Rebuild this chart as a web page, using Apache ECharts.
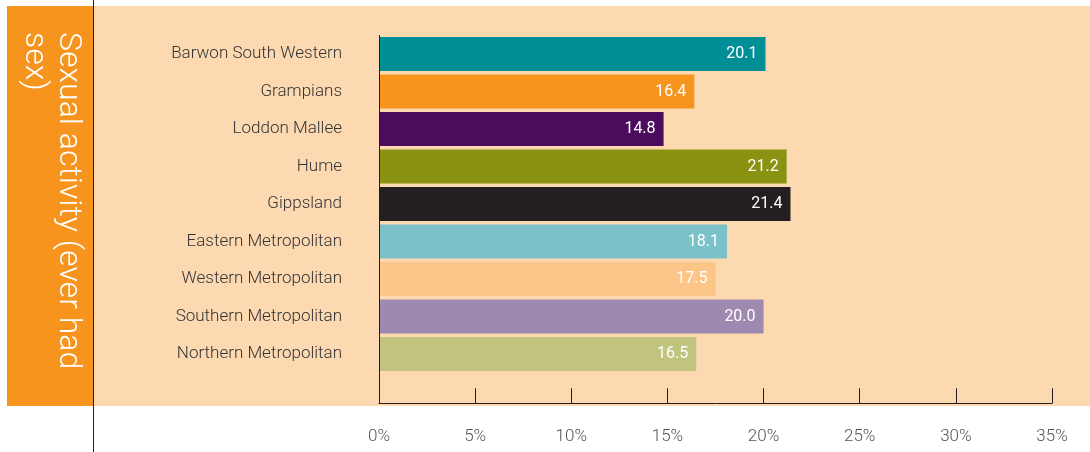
<!DOCTYPE html>
<html>
<head>
<meta charset="utf-8">
<script src="https://cdn.jsdelivr.net/npm/echarts@6/dist/echarts.min.js"></script>
<style>
  html, body { margin: 0; padding: 0; background: #ffffff; }
  #chart { width: 1090px; height: 452px; }
</style>
</head>
<body>
<div id="chart"></div>
<script>
// Regions, top to bottom
const regions = [
  'Barwon South Western', 'Grampians', 'Loddon Mallee', 'Hume', 'Gippsland',
  'Eastern Metropolitan', 'Western Metropolitan', 'Southern Metropolitan', 'Northern Metropolitan'
];
// Percentage who have ever had sex
const values = [20.1, 16.4, 14.8, 21.2, 21.4, 18.1, 17.5, 20.0, 16.5];
// One colour per region
const regionColors = [
  '#008f96', '#f7941e', '#4b0c5e', '#8a9212', '#231f20',
  '#7ac2c8', '#fdc689', '#9e89b0', '#c0c47f'
];
const xTicks = [0, 5, 10, 15, 20, 25, 30, 35];
const panelTitle = 'Sexual activity (ever had\nsex)';

const chart = echarts.init(document.getElementById('chart'), null, { renderer: 'canvas' });

const option = {
  animation: false,
  backgroundColor: '#ffffff',
  graphic: [
    { type: 'rect', z: -10, shape: { x: 93, y: 6, width: 997, height: 400 }, style: { fill: '#fcd9b1' } },
    { type: 'rect', z: -10, shape: { x: 7, y: 6, width: 86, height: 400 }, style: { fill: '#f7941e' } },
    { type: 'line', z: 5, shape: { x1: 93.5, y1: 0, x2: 93.5, y2: 452 }, style: { stroke: '#231f20', lineWidth: 1 } },
    {
      type: 'text', z: 5, x: 85, y: 32, rotation: -Math.PI / 2,
      style: {
        text: panelTitle, fill: '#ffffff', fontSize: 32, fontFamily: "'Roboto', sans-serif",
        fontWeight: 300, align: 'left', verticalAlign: 'top', lineHeight: 34
      }
    }
  ],
  grid: { left: 379, right: 38, top: 35.25, height: 337.5, containLabel: false },
  xAxis: {
    type: 'value', min: xTicks[0], max: xTicks[xTicks.length - 1], interval: 5,
    offset: 30.5,
    axisLine: { show: true, lineStyle: { color: '#231f20', width: 1 } },
    axisTick: { show: true, inside: true, length: 15, lineStyle: { color: '#231f20' } },
    splitLine: { show: false },
    axisLabel: {
      margin: 25, color: '#555555', fontSize: 17, fontFamily: "'Roboto', sans-serif", fontWeight: 300,
      formatter: v => v + '%'
    }
  },
  yAxis: {
    type: 'category', inverse: true, data: regions,
    axisLine: { show: false }, axisTick: { show: false },
    axisLabel: { margin: 37, color: '#333333', fontSize: 17, fontFamily: "'Roboto', sans-serif", fontWeight: 300 }
  },
  series: [{
    type: 'bar',
    barCategoryGap: '9%',
    data: values.map((v, i) => ({ value: v, itemStyle: { color: regionColors[i] } })),
    label: {
      show: true, position: 'insideRight', distance: 8,
      color: '#ffffff', fontSize: 16, fontFamily: "'Roboto', sans-serif",
      formatter: p => p.value.toFixed(1)
    }
  }]
};
chart.setOption(option);

// Vertical axis line at 0%, running from the top of the plot down to the value axis
const x0 = chart.convertToPixel({ xAxisIndex: 0 }, 0);
chart.setOption({
  graphic: option.graphic.concat([{
    type: 'line', z: 5, shape: { x1: x0 + 0.5, y1: 35, x2: x0 + 0.5, y2: 404 },
    style: { stroke: '#231f20', lineWidth: 1 }
  }])
});
</script>
</body>
</html>
